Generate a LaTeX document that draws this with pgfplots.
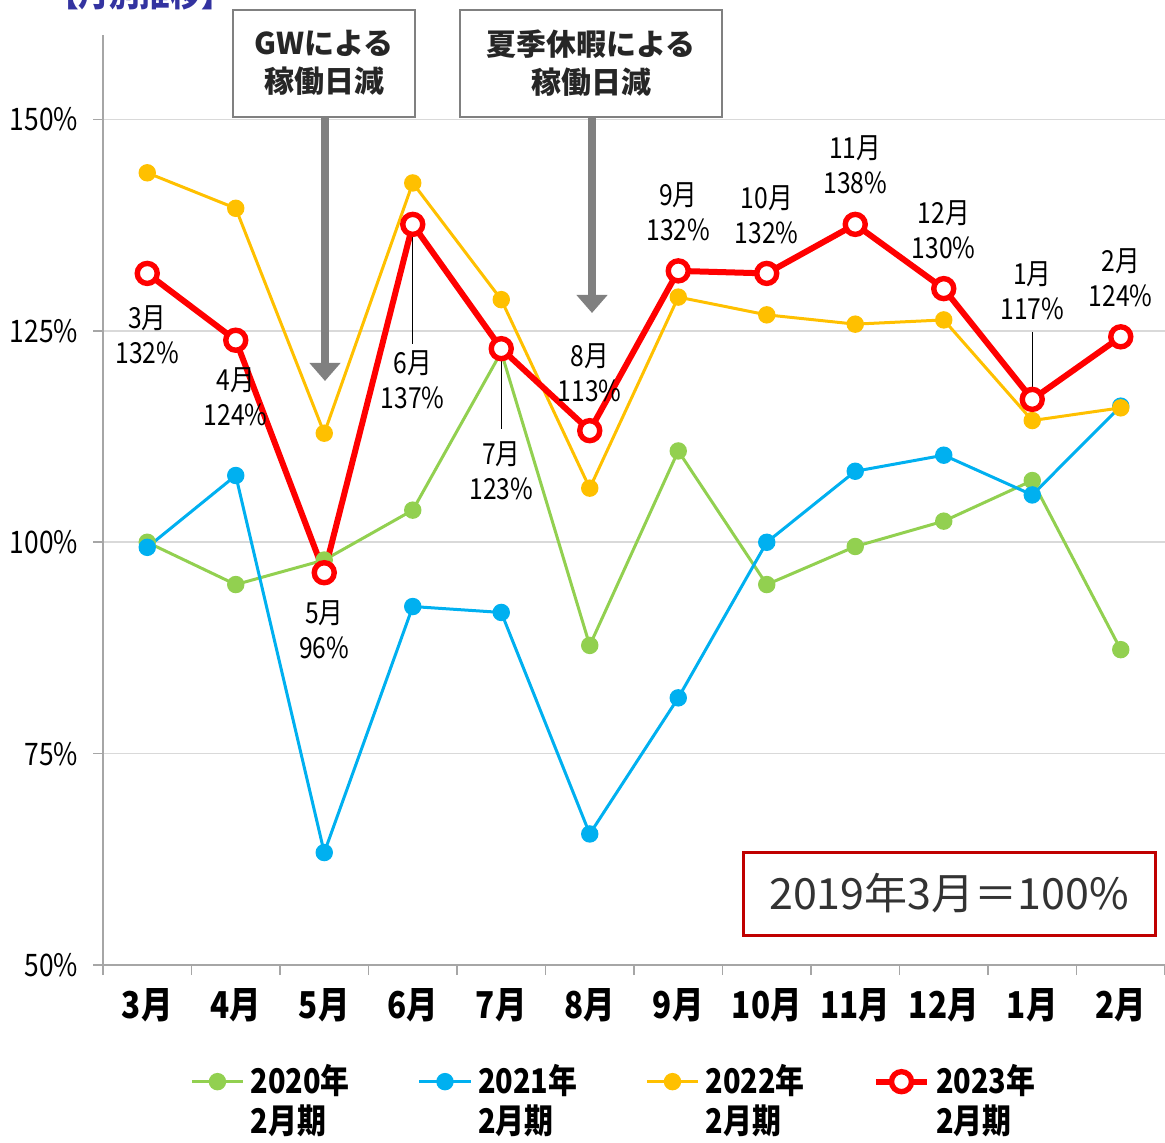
\documentclass[border=0pt]{standalone}
\usepackage{pgfplots}
\pgfplotsset{compat=1.18}
\usetikzlibrary{arrows.meta}
\usepackage{fontspec}
\setmainfont{Noto Sans CJK JP}
\newfontfamily\jp[FakeStretch=0.85]{Noto Sans CJK JP}
\definecolor{cgreen}{HTML}{92D050}
\definecolor{cblue}{HTML}{00B0F0}
\definecolor{cyellow}{HTML}{FFC000}
\definecolor{cred}{HTML}{FF0000}
\definecolor{axisgray}{HTML}{A6A6A6}
\definecolor{gridgray}{HTML}{D9D9D9}
\definecolor{boxgray}{HTML}{808080}
\definecolor{darkred}{HTML}{C00000}
\definecolor{titleblue}{HTML}{3333A0}
\begin{document}
\begin{tikzpicture}
\path[use as bounding box] (0,0) rectangle (582.5pt,571pt);
\begin{axis}[
  at={(51.5pt,88.5pt)}, anchor=south west,
  width=531pt, height=465pt, scale only axis,
  xmin=-0.5, xmax=11.5, ymin=50, ymax=160,
  clip=false,
  axis lines=left,
  axis line style={-, draw=axisgray, line width=1.3pt},
  ytick={50,75,100,125,150},
  yticklabel={\pgfmathprintnumber{\tick}\%},
  /pgf/number format/assume math mode=true,
  y tick label style={font=\jp\fontsize{15.5}{18}\selectfont, xshift=-4pt},
  ytick style={draw=axisgray, line width=0.8pt},
  major tick length=5pt,
  tick align=outside,
  ymajorgrids,
  grid style={gridgray, line width=0.8pt},
  xtick={0,...,11},
  xticklabels={3月,4月,5月,6月,7月,8月,9月,10月,11月,12月,1月,2月},
  x tick label style={font=\jp\bfseries\fontsize{18.5}{20}\selectfont, yshift=-3pt},
  xtick style={draw=none},
  extra x ticks={-0.5,0.5,...,11.5},
  extra x tick labels={},
  extra x tick style={grid=none, xtick style={draw=axisgray, line width=0.8pt}, major tick length=5pt, tick align=outside},
  legend columns=4,
  legend style={draw=none, fill=none, at={(0.482,-0.098)}, anchor=north,
    font=\jp\bfseries\fontsize{17}{20}\selectfont,
    cells={align=left},
    /tikz/every odd column/.append style={column sep=1pt},
    /tikz/every even column/.append style={column sep=32pt}},
  legend image code/.code={\draw[yshift=9.5pt, mark repeat=2,mark phase=2] plot coordinates {(0cm,0cm)(0.45cm,0cm)(0.9cm,0cm)};},
]
\addplot[cgreen, line width=1.5pt, mark=*, mark size=3.6pt, mark options={solid, fill=cgreen, draw=cgreen}]
 coordinates {(0,100.0)(1,95.0)(2,97.9)(3,103.8)(4,122.5)(5,87.8)(6,110.8)(7,95.0)(8,99.5)(9,102.5)(10,107.3)(11,87.3)};
\addlegendentry{2020年\\2月期}
\addplot[cblue, line width=1.5pt, mark=*, mark size=3.6pt, mark options={solid, fill=cblue, draw=cblue}]
 coordinates {(0,99.4)(1,107.9)(2,63.3)(3,92.4)(4,91.7)(5,65.5)(6,81.6)(7,100.0)(8,108.4)(9,110.3)(10,105.6)(11,116.1)};
\addlegendentry{2021年\\2月期}
\addplot[cyellow, line width=1.5pt, mark=*, mark size=3.6pt, mark options={solid, fill=cyellow, draw=cyellow}]
 coordinates {(0,143.7)(1,139.5)(2,112.9)(3,142.5)(4,128.7)(5,106.4)(6,129.0)(7,126.9)(8,125.8)(9,126.3)(10,114.4)(11,115.9)};
\addlegendentry{2022年\\2月期}
\addplot[cred, line width=3pt, mark=*, mark size=5pt, mark options={solid, fill=white, draw=cred, line width=2.7pt}]
 coordinates {(0,131.8)(1,123.9)(2,96.4)(3,137.6)(4,122.9)(5,113.2)(6,132.1)(7,131.8)(8,137.6)(9,130.0)(10,116.9)(11,124.3)};
\addlegendentry{2023年\\2月期}
% leader lines
\draw[black, line width=0.6pt] (axis cs:3,137.6) -- (axis cs:3,123.5);
\draw[black, line width=0.6pt] (axis cs:4,122.9) -- (axis cs:4,113.4);
\draw[black, line width=0.6pt] (axis cs:10,124.9) -- (axis cs:10,116.9);
% data labels
\tikzset{lab/.style={align=center, font=\jp\fontsize{14.5}{17.5}\selectfont, text=black, inner sep=0pt}}
\node[lab] at (axis cs:0,124.6) {3月\\132\%};
\node[lab] at (axis cs:1,117.2) {4月\\124\%};
\node[lab] at (axis cs:2,89.6) {5月\\96\%};
\node[lab] at (axis cs:3,119.2) {6月\\137\%};
\node[lab] at (axis cs:4,108.5) {7月\\123\%};
\node[lab] at (axis cs:5,120.1) {8月\\113\%};
\node[lab] at (axis cs:6,139.1) {9月\\132\%};
\node[lab] at (axis cs:7,138.7) {10月\\132\%};
\node[lab] at (axis cs:8,144.7) {11月\\138\%};
\node[lab] at (axis cs:9,137.0) {12月\\130\%};
\node[lab] at (axis cs:10,129.7) {1月\\117\%};
\node[lab] at (axis cs:11,131.3) {2月\\124\%};
\end{axis}
% title (cut off at top, as in the original)
\node[anchor=base east, inner sep=0pt, text=titleblue, font=\jp\bfseries\fontsize{18}{20}\selectfont] at (116pt,567.5pt) {【月別推移】};
% annotation boxes and arrows
\draw[boxgray, line width=1pt, fill=white] (116.5pt,512.5pt) rectangle (207.5pt,566pt);
\node[align=center, text={black!85}, font=\bfseries\fontsize{15}{19}\selectfont] at (162pt,539.5pt) {GWによる\\稼働日減};
\draw[boxgray, line width=4pt, -{Triangle[width=15pt,length=9pt]}] (162.5pt,512.5pt) -- (162.5pt,380.5pt);
\draw[boxgray, line width=1pt, fill=white] (230pt,512.5pt) rectangle (361pt,566pt);
\node[align=center, text={black!85}, font=\bfseries\fontsize{15}{19}\selectfont] at (295.5pt,539.5pt) {夏季休暇による\\稼働日減};
\draw[boxgray, line width=4pt, -{Triangle[width=15pt,length=9pt]}] (296pt,512.5pt) -- (296pt,414.5pt);
% base note
\draw[darkred, line width=1.5pt, fill=white] (371.5pt,103.5pt) rectangle (577.5pt,145pt);
\node[text={black!80}, font=\fontsize{21.5}{24}\selectfont] at (474.5pt,124.25pt) {2019年3月＝100\%};
\end{tikzpicture}
\end{document}
